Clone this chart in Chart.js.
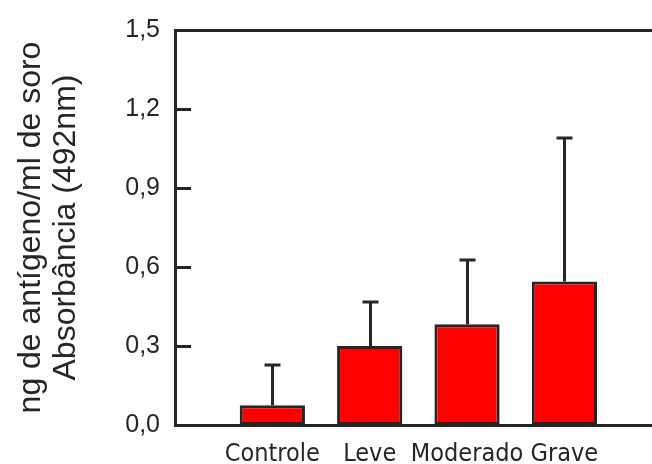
<!DOCTYPE html>
<html>
<head>
<meta charset="utf-8">
<script src="https://cdn.jsdelivr.net/npm/chart.js@4"></script>
<style>
  body { margin: 0; background: #fff; }
</style>
</head>
<body>
<canvas id="chart" width="652" height="464"></canvas>
<script>
    // group labels, mean absorbance and standard deviation
    const categories = ['Controle', 'Leve', 'Moderado', 'Grave'];
    const means = [0.075, 0.30, 0.383, 0.545];
    const errors = [0.151, 0.167, 0.243, 0.544];
    const yTicks = [0, 0.3, 0.6, 0.9, 1.2, 1.5];

    const ink = '#262626';

    // error bars, inward y ticks and top frame line
    const extras = {
        id: 'extras',
        afterDatasetsDraw(chart) {
            const { ctx, chartArea, scales: { x, y } } = chart;
            ctx.save();
            ctx.strokeStyle = ink;
            ctx.lineWidth = 3;
            ctx.lineCap = 'butt';

            means.forEach((m, i) => {
                const px = Math.round(x.getPixelForValue(i + 1)) + 0.5;
                const yBase = y.getPixelForValue(m);
                const yTop = Math.round(y.getPixelForValue(m + errors[i]));
                ctx.beginPath();
                ctx.moveTo(px, yBase);
                ctx.lineTo(px, yTop);
                ctx.moveTo(px - 8, yTop);
                ctx.lineTo(px + 8, yTop);
                ctx.stroke();
            });

            yTicks.forEach(v => {
                const py = Math.round(y.getPixelForValue(v)) + 0.5;
                ctx.beginPath();
                ctx.moveTo(chartArea.left, py);
                ctx.lineTo(chartArea.left + 16, py);
                ctx.stroke();
            });

            ctx.beginPath();
            ctx.moveTo(chartArea.left - 1, chartArea.top + 0.5);
            ctx.lineTo(chartArea.right, chartArea.top + 0.5);
            ctx.stroke();
            ctx.restore();
        }
    };

    const ctx = document.getElementById('chart').getContext('2d');
    new Chart(ctx, {
        type: 'bar',
        data: {
            datasets: [{
                data: means.map((m, i) => ({ x: i + 1, y: m })),
                backgroundColor: '#ff0000',
                borderColor: ink,
                borderWidth: 3,
                borderSkipped: false,
                categoryPercentage: 1,
                barPercentage: 0.67
            }]
        },
        options: {
            responsive: false,
            animation: false,
            layout: { padding: { top: 27, left: 0, right: 0, bottom: 0 } },
            plugins: {
                legend: { display: false },
                tooltip: { enabled: false }
            },
            scales: {
                x: {
                    type: 'linear',
                    offset: false,
                    min: 0,
                    max: 4.9,
                    afterBuildTicks: scale => {
                        scale.ticks = categories.map((c, i) => ({ value: i + 1 }));
                    },
                    afterFit: scale => { scale.height = 39; },
                    grid: { display: false, drawTicks: false },
                    border: { color: ink, width: 3 },
                    ticks: {
                        padding: 14,
                        color: ink,
                        autoSkip: false,
                        maxRotation: 0,
                        font: { family: '"DejaVu Sans Condensed", "Liberation Sans Narrow", sans-serif', size: 25 },
                        callback: v => categories[v - 1] || ''
                    }
                },
                y: {
                    min: 0,
                    max: 1.5,
                    afterBuildTicks: scale => {
                        scale.ticks = yTicks.map(v => ({ value: v }));
                    },
                    afterFit: scale => { scale.width = 175; },
                    grid: { display: false, drawTicks: false },
                    border: { color: ink, width: 3 },
                    ticks: {
                        padding: 15,
                        color: ink,
                        font: { family: '"Liberation Sans", Arial, sans-serif', size: 25 },
                        callback: v => v.toFixed(1).replace('.', ',')
                    },
                    title: {
                        display: true,
                        text: ['ng de antígeno/ml de soro', 'Absorbância (492nm)'],
                        color: ink,
                        padding: { top: 14, bottom: 0 },
                        font: { family: '"Liberation Sans", Arial, sans-serif', size: 32, lineHeight: 1.08 }
                    }
                }
            }
        },
        plugins: [extras]
    });
</script>
</body>
</html>
